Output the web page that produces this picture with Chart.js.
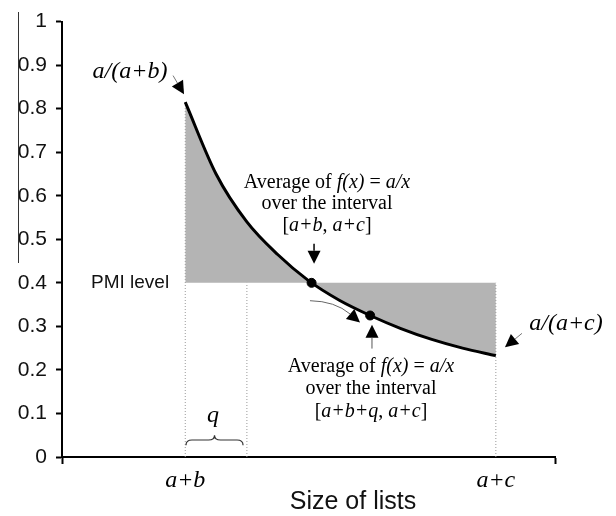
<!DOCTYPE html>
<html>
<head>
<meta charset="utf-8">
<script src="https://cdn.jsdelivr.net/npm/chart.js@4.4.0/dist/chart.umd.min.js"></script>
<style>
  html, body { margin: 0; padding: 0; background: #fff; }
  #wrap { width: 616px; height: 516px; }
</style>
</head>
<body>
<div id="wrap"><canvas id="pmiChart" width="616" height="516"></canvas></div>
<script>
// axis ranges
var yMin = 0, yMax = 1, yStep = 0.1;
var xMin = 0, xMax = 4;

// x tick labels (only two are labelled)
var xTickValues = [1, 3.52];
var xTickLabels = ['a+b', 'a+c'];

// f(x) = a/x
var curveX = [1, 1.25, 1.5, 1.75, 2, 2.25, 2.5, 2.75, 3, 3.25, 3.52];
var curveY = [0.815, 0.65, 0.54, 0.465, 0.405, 0.36, 0.325, 0.295, 0.27, 0.25, 0.233];

var pmiLevel = 0.4;

// the two averages marked on the curve
var avgX = [2.025, 2.5];
var avgY = [0.4, 0.325];

// dotted guide lines (a+b, a+b+q, a+c)
var guideX = [1, 1.5, 3.52];
var guideTop = [0.815, 0.4, 0.4];

var serif = '"Liberation Serif", "Times New Roman", serif';
var sans = '"Liberation Sans", Arial, sans-serif';

function drawRich(ctx, parts, cx, cy, size) {
    var w = 0;
    parts.forEach(function(p) {
        ctx.font = (p[1] ? 'italic ' : '') + size + 'px ' + serif;
        w += ctx.measureText(p[0]).width;
    });
    var x = cx - w / 2;
    ctx.textAlign = 'left';
    ctx.textBaseline = 'middle';
    parts.forEach(function(p) {
        ctx.font = (p[1] ? 'italic ' : '') + size + 'px ' + serif;
        ctx.fillText(p[0], x, cy);
        x += ctx.measureText(p[0]).width;
    });
}

function arrowHead(ctx, x2, y2, ang) {
    var hl = 13, hw = 6.5;
    var bx = x2 - hl * Math.cos(ang), by = y2 - hl * Math.sin(ang);
    ctx.fillStyle = '#000';
    ctx.beginPath();
    ctx.moveTo(x2, y2);
    ctx.lineTo(bx + hw * Math.sin(ang), by - hw * Math.cos(ang));
    ctx.lineTo(bx - hw * Math.sin(ang), by + hw * Math.cos(ang));
    ctx.closePath();
    ctx.fill();
    return [bx, by];
}

function arrow(ctx, x1, y1, x2, y2, lw, col) {
    var ang = Math.atan2(y2 - y1, x2 - x1);
    var b = arrowHead(ctx, x2, y2, ang);
    ctx.strokeStyle = col;
    ctx.lineWidth = lw;
    ctx.beginPath();
    ctx.moveTo(x1, y1);
    ctx.lineTo(b[0], b[1]);
    ctx.stroke();
}

var notes = {
    id: 'notes',
    afterDraw: function(chart) {
        var ctx = chart.ctx;
        var xs = chart.scales.x, ys = chart.scales.y;
        var px = function(v) { return xs.getPixelForValue(v); };
        var py = function(v) { return ys.getPixelForValue(v); };
        ctx.save();
        ctx.fillStyle = '#000';

        // stray rule at far left
        ctx.strokeStyle = '#333';
        ctx.lineWidth = 1;
        ctx.beginPath();
        ctx.moveTo(18.5, 12);
        ctx.lineTo(18.5, 263);
        ctx.stroke();

        // a/(a+b)
        drawRich(ctx, [['a/(a+b)', true]], px(0.552), py(0.886), 24);
        arrow(ctx, px(0.901), py(0.876), px(0.99), py(0.833), 1, '#777');

        // first average label
        drawRich(ctx, [['Average of ', false], ['f(x)', true], [' = ', false], ['a/x', true]], px(2.15), py(0.629), 20);
        drawRich(ctx, [['over the interval', false]], px(2.15), py(0.581), 20);
        drawRich(ctx, [['[', false], ['a+b', true], [', ', false], ['a+c', true], [']', false]], px(2.15), py(0.532), 20);
        arrow(ctx, px(2.045), py(0.49), px(2.045), py(0.444), 1.5, '#000');

        // curved arrow between the two averages
        var sx = px(2.012), sy = py(0.359), cx = px(2.215), cy = py(0.358), ex = px(2.418), ey = py(0.309);
        var ang = Math.atan2(ey - cy, ex - cx);
        var b = arrowHead(ctx, ex, ey, ang);
        ctx.strokeStyle = '#666';
        ctx.lineWidth = 1;
        ctx.beginPath();
        ctx.moveTo(sx, sy);
        ctx.quadraticCurveTo(cx, cy, b[0], b[1]);
        ctx.stroke();

        // second average label
        arrow(ctx, px(2.515), py(0.249), px(2.515), py(0.304), 1, '#555');
        ctx.fillStyle = '#000';
        drawRich(ctx, [['Average of ', false], ['f(x)', true], [' = ', false], ['a/x', true]], px(2.507), py(0.208), 20);
        drawRich(ctx, [['over the interval', false]], px(2.507), py(0.156), 20);
        drawRich(ctx, [['[', false], ['a+b+q', true], [', ', false], ['a+c', true], [']', false]], px(2.507), py(0.105), 20);

        // a/(a+c)
        drawRich(ctx, [['a/(a+c)', true]], px(4.089), py(0.307), 24);
        arrow(ctx, px(3.732), py(0.284), px(3.594), py(0.252), 1, '#777');

        // PMI level
        ctx.fillStyle = '#111';
        ctx.font = '19px ' + sans;
        ctx.textAlign = 'center';
        ctx.textBaseline = 'middle';
        ctx.fillText('PMI level', px(0.552), py(pmiLevel));

        // q with brace
        ctx.fillStyle = '#000';
        drawRich(ctx, [['q', true]], px(1.225), py(0.096), 24);
        var x1 = px(1.006), x2 = px(1.469), xm = (x1 + x2) / 2;
        var yT = py(0.05), yM = py(0.039), yE = py(0.027);
        ctx.strokeStyle = '#333';
        ctx.lineWidth = 1.2;
        ctx.beginPath();
        ctx.moveTo(x1, yE);
        ctx.quadraticCurveTo(x1, yM, x1 + 6, yM);
        ctx.lineTo(xm - 6, yM);
        ctx.quadraticCurveTo(xm, yM, xm, yT);
        ctx.quadraticCurveTo(xm, yM, xm + 6, yM);
        ctx.lineTo(x2 - 6, yM);
        ctx.quadraticCurveTo(x2, yM, x2, yE);
        ctx.stroke();

        // axis title
        ctx.fillStyle = '#111';
        ctx.font = '25px ' + sans;
        ctx.textAlign = 'center';
        ctx.textBaseline = 'middle';
        ctx.fillText('Size of lists', 353, 502);
        ctx.restore();
    }
};

var datasets = [];
datasets.push({
    label: 'f(x) = a/x',
    data: curveX.map(function(x, i) { return { x: x, y: curveY[i] }; }),
    borderColor: '#000',
    borderWidth: 3,
    pointRadius: 0,
    cubicInterpolationMode: 'monotone',
    fill: { value: pmiLevel },
    backgroundColor: '#b4b4b4',
    order: 3
});
for (var i = 0; i < guideX.length; i++) {
    datasets.push({
        label: 'guide' + i,
        data: [{ x: guideX[i], y: 0 }, { x: guideX[i], y: guideTop[i] }],
        borderColor: '#999',
        borderWidth: 1,
        borderDash: [1, 2],
        pointRadius: 0,
        fill: false,
        order: 4
    });
}
datasets.push({
    label: 'averages',
    data: avgX.map(function(x, i) { return { x: x, y: avgY[i] }; }),
    showLine: false,
    pointRadius: 4.5,
    pointBackgroundColor: '#000',
    pointBorderColor: '#000',
    order: 1
});

new Chart(document.getElementById('pmiChart').getContext('2d'), {
    type: 'line',
    data: { datasets: datasets },
    options: {
        responsive: false,
        animation: false,
        layout: { padding: { top: 20, right: 61, left: 0, bottom: 0 } },
        plugins: {
            legend: { display: false },
            tooltip: { enabled: false },
            filler: { drawTime: 'beforeDatasetsDraw' }
        },
        scales: {
            x: {
                type: 'linear',
                min: xMin,
                max: xMax,
                afterBuildTicks: function(scale) {
                    scale.ticks = [xMin].concat(xTickValues, [xMax]).map(function(v) { return { value: v }; });
                },
                afterFit: function(scale) { scale.height = 59; },
                ticks: {
                    autoSkip: false,
                    maxRotation: 0,
                    color: '#000',
                    font: { family: serif, size: 24, style: 'italic' },
                    padding: 2,
                    callback: function(v) {
                        var k = xTickValues.indexOf(v);
                        return k >= 0 ? xTickLabels[k] : '';
                    }
                },
                grid: {
                    drawOnChartArea: false,
                    tickLength: 7,
                    tickWidth: 2,
                    tickColor: function(c) {
                        return (c.tick && (c.tick.value === xMin || c.tick.value === xMax)) ? '#000' : 'rgba(0,0,0,0)';
                    }
                },
                border: { color: '#000', width: 2 }
            },
            y: {
                min: yMin,
                max: yMax,
                afterFit: function(scale) { scale.width = 62; },
                ticks: {
                    stepSize: yStep,
                    color: '#111',
                    padding: 9,
                    font: { family: sans, size: 21 },
                    callback: function(v) { return String(+v.toFixed(1)); }
                },
                grid: {
                    drawOnChartArea: false,
                    tickLength: 6,
                    tickWidth: 2,
                    tickColor: '#000'
                },
                border: { color: '#000', width: 2 }
            }
        }
    },
    plugins: [notes]
});
</script>
</body>
</html>
